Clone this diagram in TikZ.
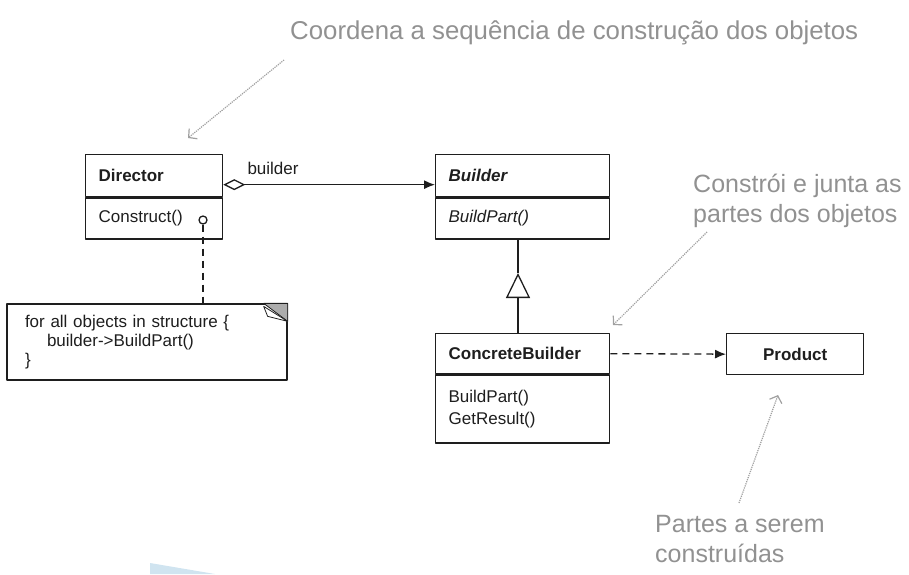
\documentclass[tikz,border=0pt]{standalone}
\usepackage{fontspec}
\setmainfont{Liberation Sans}
\usetikzlibrary{arrows.meta,positioning}
\definecolor{umlline}{RGB}{30,30,30}
\definecolor{notegray}{RGB}{145,145,145}
\definecolor{arrowgray}{RGB}{160,160,160}
\definecolor{slideblue}{RGB}{208,228,240}
\begin{document}
\begin{tikzpicture}[x=1pt,y=-1pt,line join=round,
	cls/.style={draw=umlline,line width=1.3pt,text=umlline,anchor=north west,
		inner xsep=13pt,inner ysep=0pt,align=left,font=\fontsize{17}{22}\selectfont},
	notebox/.style={draw=umlline,line width=1.3pt,text=umlline,inner xsep=18pt,
		minimum width=280pt,minimum height=76pt,text width=244pt,align=left,
		font=\fontsize{17}{19}\selectfont},
	link/.style={draw=umlline,line width=1.3pt},
	dashlink/.style={link,dash pattern=on 7pt off 5pt},
	annot/.style={text=notegray,anchor=base west,align=left,inner sep=0pt,
		font=\fontsize{25}{30}\selectfont},
	pointer/.style={draw=arrowgray,line width=1.2pt,densely dotted,
		-{Straight Barb[length=6pt,width=13pt]}}]
	\useasboundingbox (0,0) rectangle (909,574);
	% classes
	\node[cls,text width=111pt,minimum height=42pt] (dirhead) at (85,154) {\bfseries Director};
	\node[cls,text width=111pt,minimum height=41pt] (dirbody) at (dirhead.south west) {Construct()};
	\node[cls,text width=148pt,minimum height=42pt] (bldhead) at (435,154) {\bfseries\itshape Builder};
	\node[cls,text width=148pt,minimum height=41pt] (bldbody) at (bldhead.south west) {\itshape BuildPart()};
	\node[cls,text width=148pt,minimum height=40pt] (cbhead) at (435,333) {\bfseries ConcreteBuilder};
	\node[cls,text width=148pt,minimum height=68pt] (cbbody) at (cbhead.south west) {BuildPart()\\GetResult()};
	\node[cls,text width=111pt,minimum height=41pt,align=center] (product) at (726,333) {\bfseries Product};
	% note
	\node[circle,link,inner sep=0pt,minimum size=8pt] (hook) at (203,220) {};
	\node[notebox] (note) at (147,342) {for all objects in structure \{\\\hspace*{22pt}builder->BuildPart()\\\}};
	\filldraw[fill=gray!65,draw=umlline,line width=0.8pt] ([xshift=-24pt]note.north east) -- (note.north east) -- ([yshift=-18pt]note.north east) -- cycle;
	\draw[fill=white,draw=umlline,line width=0.8pt] ([xshift=-24pt,yshift=-3pt]note.north east) -- ([xshift=-20pt,yshift=-13pt]note.north east) -- ([yshift=-18pt]note.north east) -- cycle;
	\draw[dashlink] (hook) -- (hook |- note.north);
	% relations
	\draw[link,{Diamond[open,length=22pt,width=11pt]}-{Latex[length=11pt,width=9pt]}]
		([yshift=-9pt]dirhead.east) -- node[pos=0.235,above=9pt,inner sep=0pt,text=umlline,font=\fontsize{17}{20}\selectfont]{builder} ([yshift=-9pt]bldhead.west);
	\coordinate (inh) at (518,273);
	\draw[link] (inh |- bldbody.south) -- (inh);
	\draw[link,-{Triangle[open,length=25pt,width=24pt]}] (inh |- cbhead.north) -- (inh);
	\draw[dashlink,-{Latex[length=11pt,width=9pt]}] (cbhead.east) -- (product.west);
	% annotations
	\node[annot,font=\fontsize{25.8}{30}\selectfont] (coordtxt) at (290,39) {Coordena a sequência de construção dos objetos};
	\node[annot] (buildtxt) at (693,222) {Constrói e junta as\\partes dos objetos};
	\node[annot] (partstxt) at (655,562) {Partes a serem\\construídas};
	\coordinate (c1) at (284,60);
	\coordinate (c1tip) at (188,138);
	\coordinate (c2) at (707,232);
	\coordinate (c2tip) at (613,325);
	\coordinate (c3) at (739,503);
	\coordinate (c3tip) at (778,395);
	\draw[pointer] (c1) -- (c1tip);
	\draw[pointer] (c2) -- (c2tip);
	\draw[pointer] (c3) -- (c3tip);
	% slide corner
	\fill[slideblue] (150,563) -- (215,574) -- (150,574) -- cycle;
\end{tikzpicture}
\end{document}
